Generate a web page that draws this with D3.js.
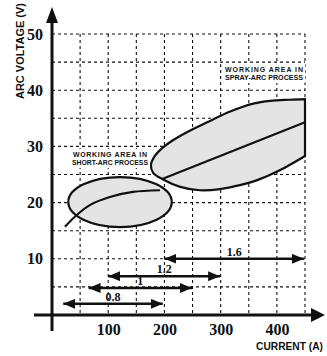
<!DOCTYPE html>
<html>
<head>
<meta charset="utf-8">
<script src="https://cdn.jsdelivr.net/npm/d3@7"></script>
<style>
body { margin: 0; background: #fff; }
</style>
</head>
<body>
<div id="chart-area"></div>
<script>
// tick labels and grid
var voltTicks = [10, 20, 30, 40, 50];
var currentTicks = [100, 200, 300, 400];
var gridCurrent = [50, 100, 150, 200, 250, 300, 350, 400, 450];
var gridVoltage = [5, 10, 15, 20, 25, 30, 35, 40, 45, 50];

// wire diameters (mm) and their current ranges (A), drawn at voltage level
var wireSizes = ["0.8", "1", "1.2", "1.6"];
var wireFrom = [20, 65, 100, 200];
var wireTo = [197, 249, 299, 448];
var wireLevel = [2, 4.8, 6.9, 10];

// short-arc working area (ellipse) and its characteristic curve
var shortCenter = [121, 20.1];
var shortRadius = [92, 4.45];
var shortCurveA = [23, 44, 68, 103, 144, 192];
var shortCurveV = [15.7, 17.8, 19.6, 21.0, 21.9, 22.2];

// spray-arc working area outline and characteristic line
var sprayA = [450, 423, 388, 358, 317, 276, 245, 215, 196, 183, 176, 180, 196, 228, 263, 299, 334, 365, 406, 450];
var sprayV = [38.4, 38.3, 38.1, 37.6, 36.2, 34.3, 32.8, 31.1, 29.7, 28.3, 26.7, 25.3, 24.2, 22.8, 22.2, 22.4, 23.1, 24.0, 25.8, 28.3];
var sprayLineA = [196, 450];
var sprayLineV = [24.2, 34.3];

var W = 327, H = 356;
var serif = "'Liberation Serif', 'DejaVu Serif', serif";
var sans = "'Liberation Sans', Arial, sans-serif";

var svg = d3.select("#chart-area")
    .append("svg")
    .attr("width", W)
    .attr("height", H);

var x = d3.scaleLinear().domain([0, 450]).range([52, 305]);
var y = d3.scaleLinear().domain([0, 50]).range([315, 34]);

// arrowhead marker
var defs = svg.append("defs");
defs.append("marker")
    .attr("id", "head")
    .attr("markerUnits", "userSpaceOnUse")
    .attr("viewBox", "0 0 12 10")
    .attr("refX", 12)
    .attr("refY", 5)
    .attr("markerWidth", 12)
    .attr("markerHeight", 10)
    .attr("orient", "auto-start-reverse")
    .append("path")
    .attr("d", "M0,0 L12,5 L0,10 Z")
    .attr("fill", "#111");

// dashed grid
var grid = svg.append("g")
    .attr("stroke", "#111")
    .attr("stroke-width", 1.1)
    .attr("stroke-dasharray", "3,3");

grid.selectAll("line.v")
    .data(gridCurrent)
    .enter()
    .append("line")
    .attr("x1", d => x(d)).attr("x2", d => x(d))
    .attr("y1", y(50)).attr("y2", y(0));

grid.selectAll("line.h")
    .data(gridVoltage)
    .enter()
    .append("line")
    .attr("x1", x(0)).attr("x2", x(450))
    .attr("y1", d => y(d)).attr("y2", d => y(d));

// area labels with white backing
function areaLabel(cx, top, lines, widths) {
    svg.append("rect")
        .attr("x", cx - 41).attr("y", top)
        .attr("width", 82).attr("height", 19)
        .attr("fill", "#fff");
    lines.forEach(function(t, i) {
        svg.append("text")
            .attr("x", cx - widths[i] / 2)
            .attr("y", top + 8 + i * 8)
            .attr("textLength", widths[i])
            .attr("lengthAdjust", i == 0 ? "spacing" : "spacingAndGlyphs")
            .style("font-family", sans)
            .style("font-weight", "bold")
            .style("font-size", "7px")
            .style("fill", "#111")
            .text(t);
    });
}
areaLabel(110, 149, ["WORKING AREA IN", "SHORT-ARC PROCESS"], [74, 76]);
areaLabel(264, 64, ["WORKING AREA IN", "SPRAY-ARC PROCESS"], [78, 78]);

// spray-arc area
var sprayPts = sprayA.map((a, i) => [x(a), y(sprayV[i])]);
svg.append("path")
    .attr("d", d3.line().curve(d3.curveCatmullRom)(sprayPts) + "Z")
    .attr("fill", "#e4e4e4")
    .attr("stroke", "#111")
    .attr("stroke-width", 2.2);

svg.append("line")
    .attr("x1", x(sprayLineA[0])).attr("y1", y(sprayLineV[0]))
    .attr("x2", x(sprayLineA[1])).attr("y2", y(sprayLineV[1]))
    .attr("stroke", "#111")
    .attr("stroke-width", 2.2);

// short-arc area
svg.append("ellipse")
    .attr("cx", x(shortCenter[0]))
    .attr("cy", y(shortCenter[1]))
    .attr("rx", x(shortCenter[0] + shortRadius[0]) - x(shortCenter[0]))
    .attr("ry", y(shortCenter[1] - shortRadius[1]) - y(shortCenter[1]))
    .attr("fill", "#e4e4e4")
    .attr("stroke", "#111")
    .attr("stroke-width", 2.2);

svg.append("path")
    .attr("d", d3.line().curve(d3.curveCatmullRom)(shortCurveA.map((a, i) => [x(a), y(shortCurveV[i])])))
    .attr("fill", "none")
    .attr("stroke", "#111")
    .attr("stroke-width", 2.2);

// wire diameter ranges
var wires = svg.selectAll("g.wire")
    .data(wireSizes)
    .enter()
    .append("g");

wires.append("line")
    .attr("x1", (d, i) => x(wireFrom[i]))
    .attr("x2", (d, i) => x(wireTo[i]))
    .attr("y1", (d, i) => y(wireLevel[i]))
    .attr("y2", (d, i) => y(wireLevel[i]))
    .attr("stroke", "#111")
    .attr("stroke-width", 2.4)
    .attr("marker-start", "url(#head)")
    .attr("marker-end", "url(#head)");

wires.append("text")
    .attr("x", (d, i) => x((wireFrom[i] + wireTo[i]) / 2))
    .attr("y", (d, i) => y(wireLevel[i]) - 3)
    .attr("text-anchor", "middle")
    .style("font-family", serif)
    .style("font-weight", "bold")
    .style("font-size", "12px")
    .style("fill", "#111")
    .text(d => d);

// axes
svg.append("line")
    .attr("x1", 34).attr("x2", 314)
    .attr("y1", y(0)).attr("y2", y(0))
    .attr("stroke", "#111").attr("stroke-width", 3);
svg.append("path")
    .attr("d", "M325," + y(0) + " L311," + (y(0) - 7) + " L311," + (y(0) + 7) + " Z")
    .attr("fill", "#111");

svg.append("line")
    .attr("x1", x(0)).attr("x2", x(0))
    .attr("y1", 331).attr("y2", 20)
    .attr("stroke", "#111").attr("stroke-width", 3);
svg.append("path")
    .attr("d", "M" + x(0) + ",7 L" + (x(0) - 6) + ",23 L" + (x(0) + 6) + ",23 Z")
    .attr("fill", "#111");

var yAxis = d3.axisLeft(y).tickValues(voltTicks).tickSize(0).tickPadding(9);
svg.append("g")
    .attr("transform", "translate(" + x(0) + ",0)")
    .call(yAxis)
    .call(g => g.select(".domain").remove())
    .selectAll("text")
    .style("font-family", serif)
    .style("font-weight", "bold")
    .style("font-size", "16px")
    .style("fill", "#111");

var xAxis = d3.axisBottom(x).tickValues(currentTicks).tickSize(0).tickPadding(9);
svg.append("g")
    .attr("transform", "translate(0," + y(0) + ")")
    .call(xAxis)
    .call(g => g.select(".domain").remove())
    .selectAll("text")
    .style("font-family", serif)
    .style("font-weight", "bold")
    .style("font-size", "16px")
    .style("fill", "#111");

// axis titles
svg.append("text")
    .attr("transform", "translate(24,51) rotate(-90)")
    .attr("text-anchor", "middle")
    .attr("textLength", 96)
    .attr("lengthAdjust", "spacingAndGlyphs")
    .style("font-family", sans)
    .style("font-weight", "bold")
    .style("font-size", "11px")
    .style("fill", "#111")
    .text("ARC  VOLTAGE (V)");

svg.append("text")
    .attr("x", 256)
    .attr("y", 350)
    .attr("textLength", 67)
    .attr("lengthAdjust", "spacingAndGlyphs")
    .style("font-family", sans)
    .style("font-weight", "bold")
    .style("font-size", "11px")
    .style("fill", "#111")
    .text("CURRENT (A)");
</script>
</body>
</html>
